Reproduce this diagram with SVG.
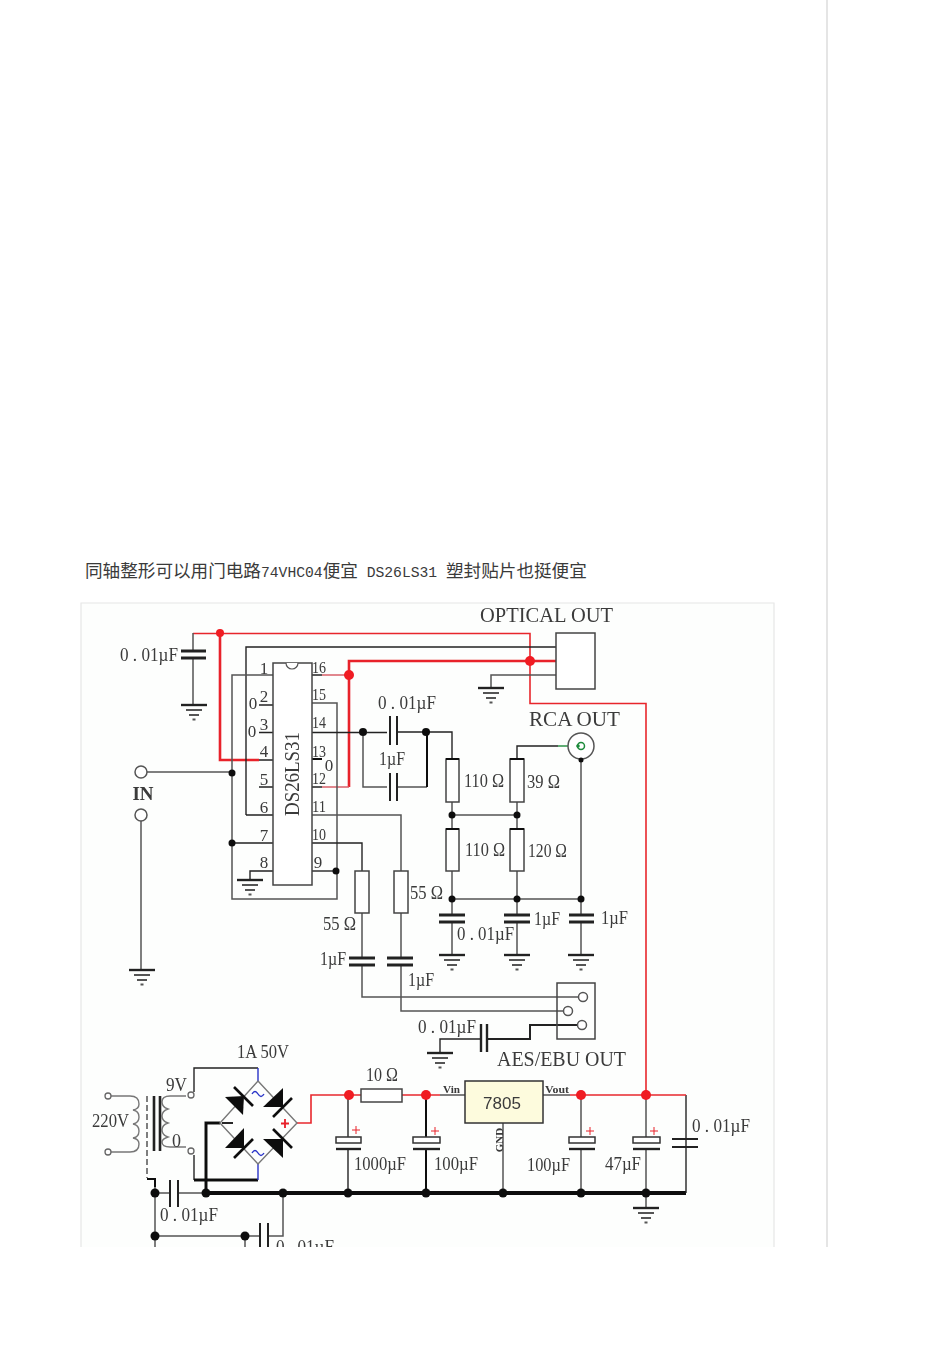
<svg xmlns="http://www.w3.org/2000/svg" width="950" height="1345" viewBox="0 0 950 1345">
<style>
.w{fill:none;stroke:#555;stroke-width:1.5}
.k{fill:none;stroke:#222;stroke-width:1.4}
.h{fill:none;stroke:#111;stroke-width:3}
.b{fill:none;stroke:#111;stroke-width:4}
.r{fill:none;stroke:#e8262c;stroke-width:1.6}
.rt{fill:none;stroke:#e8202a;stroke-width:2.6}
.rl{fill:none;stroke:#d8606a;stroke-width:1.6}
.bl{fill:none;stroke:#2a35c8;stroke-width:1.4}
.p{fill:none;stroke:#222;stroke-width:3}
.box{fill:#fff;stroke:#444;stroke-width:1.5}
.dot{fill:#111}
.rd{fill:#f01a24}
.d{fill:#111}
.bar{stroke:#111;stroke-width:2.6;fill:none}
.thin{fill:none;stroke:#777;stroke-width:1.4}
text{font-family:"Liberation Serif","Noto Sans CJK SC",serif;fill:#3a3a3a}
.t{font-size:19px}
.n{font-size:17px}
.big{font-size:21px}
.s{font-size:11px;font-weight:bold}
</style>
<defs>
<g id="gnd"><path d="M-13 0H13" stroke="#222" stroke-width="2.400" fill="none"/><path d="M-8 5H8M-5 10H5M-1.500 14.500H1.500" stroke="#555" stroke-width="1.800" fill="none"/></g>
<clipPath id="pic"><rect x="81" y="603" width="693" height="644"/></clipPath>
<filter id="soft" x="0" y="0" width="100%" height="100%"><feGaussianBlur stdDeviation="0.35"/></filter>
</defs>
<rect width="950" height="1345" fill="#fff"/>
<path d="M827 0V1247" stroke="#dcdcdc" stroke-width="1.500" fill="none"/>
<text id="caption" x="85" y="577" font-size="17.600"><tspan>同轴整形可以用门电路</tspan><tspan font-family="Liberation Mono" font-size="14.700">74VHC04</tspan><tspan>便宜</tspan><tspan font-family="Liberation Mono" font-size="14.700"> DS26LS31 </tspan><tspan>塑封贴片也挺便宜</tspan></text>
<rect x="81" y="603" width="693" height="644" fill="#fdfefd"/>
<path d="M81 1247V603H774V1247" fill="none" stroke="#e6e6e6" stroke-width="1.200"/>
<g clip-path="url(#pic)" filter="url(#soft)">
<g id="connectors">
<path class="r" d="M193 633.500H530V703.500H646V1095"/>
<path class="rt" d="M220 633V760H259"/>
<path class="k" d="M246 815V647H556"/>
<path class="rt" d="M349 787V661H556"/>
<path class="rl" d="M322 675H349M322 787H349"/>
<path class="k" d="M312 675H322M312 787H322"/>
<path class="w" d="M273 675H232V899H337V703H312"/>
<path class="k" d="M259 705H273M259 732.500H273M259 760H273M259 787H273M246 815H273M232 843H273"/>
<path class="k" d="M273 871H250V880"/>
<path class="k" d="M312 871H336"/>
<path class="k" d="M312 732.500H387M397 732H452V759"/>
<path class="w" d="M363 732V787H387M397 787H427"/>
<path class="h" d="M427 732V787" style="stroke-width:2"/>
<path class="h" d="M312 759H322" style="stroke-width:2"/>
<path class="w" d="M312 815H401V871M401 913V958M401 965V1011H563"/>
<path class="k" d="M312 843H362V871"/>
<path class="w" d="M362 913V958M362 965V997H578"/>
<path class="k" d="M577 1025H530V1039H487" style="stroke-width:2"/>
<path class="k" d="M480 1039H440V1053"/>
<path class="w" d="M193 633V650M193 658V704"/>
<path class="w" d="M147 772H232"/>
<path class="w" d="M141 821V970"/>
<path class="w" d="M556 675H491V688"/>
<path class="w" d="M452 802V829M452 871V915M452 922V955"/>
<path class="k" d="M517 759V746H558"/>
<path d="M558 746H578" fill="none" stroke="#1c8a3a" stroke-width="1.400"/>
<path class="w" d="M517 802V829M517 871V915M517 922V955"/>
<path class="w" d="M581 758V915M581 922V955"/>
<path class="w" d="M452 815H517M452 899H581"/>
<path class="thin" d="M111 1096H130q9 0 9 8q0 5-6 6q6 1 6 7q0 6-6 7q6 1 6 7q0 6-6 7q6 1 6 6q0 8-9 8H111"/>
<path class="thin" d="M186 1096H170q-8 0-8 6q0 5 6 7q-6 2-6 7q0 5 6 7q-6 2-6 7q0 5 6 7q-6 2-6 5q0 5 8 5H186"/>
<path class="w" d="M147 1096V1178" stroke-dasharray="6 3"/>
<path class="h" d="M147 1179H155V1187" style="stroke-width:2"/>
<path class="k" d="M194 1092V1068H258"/>
<path class="k" d="M194 1155V1180"/>
<path class="h" d="M194 1180H258"/>
<path class="bl" d="M258 1068V1081M258 1164V1180"/>
<path class="h" d="M220 1123H206V1193"/>
<path class="b" d="M206 1193H686"/>
<path class="k" d="M686 1095V1193"/>
<path class="w" d="M155 1187V1247M155 1193H170M178 1193H206M155 1236H260M268 1236H283V1193M245 1236V1247"/>
<path class="r" d="M297 1123H311V1095H361M402 1095H440M570 1095H686"/>
<path class="w" d="M440 1095H465M543 1095H570"/>
<path class="k" d="M348 1095V1137M348 1150V1193"/>
<path class="h" d="M426 1095V1137M426 1150V1193" style="stroke-width:2"/>
<path class="w" d="M503 1123V1193"/>
<path class="w" d="M581 1095V1137M581 1150V1193"/>
<path class="w" d="M646 1095V1137M646 1150V1207"/>
</g>
<g id="ic"><rect class="box" x="273" y="663" width="39" height="222"/><path d="M286 663a6 6 0 0 0 12 0" fill="#fff" stroke="#555" stroke-width="1.200"/>
<text transform="translate(299 774) rotate(-90)" text-anchor="middle" textLength="84" lengthAdjust="spacingAndGlyphs" font-size="20">DS26LS31</text>
<g class="n"><text x="264" y="674" text-anchor="middle">1</text><text x="264" y="702" text-anchor="middle">2</text><text x="264" y="730" text-anchor="middle">3</text><text x="264" y="757" text-anchor="middle">4</text><text x="264" y="785" text-anchor="middle">5</text><text x="264" y="813" text-anchor="middle">6</text><text x="264" y="841" text-anchor="middle">7</text><text x="264" y="868" text-anchor="middle">8</text>
<text x="312" y="673" textLength="14" lengthAdjust="spacingAndGlyphs">16</text><text x="312" y="700" textLength="14" lengthAdjust="spacingAndGlyphs">15</text><text x="312" y="728" textLength="14" lengthAdjust="spacingAndGlyphs">14</text><text x="312" y="757" textLength="14" lengthAdjust="spacingAndGlyphs">13</text><text x="312" y="784" textLength="14" lengthAdjust="spacingAndGlyphs">12</text><text x="312" y="812" textLength="14" lengthAdjust="spacingAndGlyphs">11</text><text x="312" y="840" textLength="14" lengthAdjust="spacingAndGlyphs">10</text><text x="318" y="868" text-anchor="middle">9</text>
<text x="253" y="709" text-anchor="middle">0</text><text x="252" y="737" text-anchor="middle">0</text><text x="329" y="771" text-anchor="middle">0</text></g></g>
<g id="junctions">
<circle class="rd" cx="220" cy="633" r="4"/><circle class="rd" cx="349" cy="675" r="5"/><circle class="rd" cx="530" cy="661" r="5"/>
<circle class="dot" cx="232" cy="773" r="3.500"/><circle class="dot" cx="232" cy="843" r="3.500"/><circle class="dot" cx="336" cy="871" r="3.500"/>
<circle class="dot" cx="363" cy="732" r="4"/><circle class="dot" cx="426" cy="732" r="4"/>
<circle class="dot" cx="452" cy="815" r="3.500"/><circle class="dot" cx="517" cy="815" r="3.500"/><circle class="dot" cx="452" cy="899" r="3.500"/><circle class="dot" cx="517" cy="899" r="3.500"/><circle class="dot" cx="581" cy="899" r="3.500"/>
<circle class="dot" cx="155" cy="1193" r="4.500"/><circle class="dot" cx="206" cy="1193" r="4.500"/><circle class="dot" cx="283" cy="1193" r="4.500"/><circle class="dot" cx="348" cy="1193" r="4.500"/><circle class="dot" cx="426" cy="1193" r="4.500"/><circle class="dot" cx="503" cy="1193" r="4.500"/><circle class="dot" cx="581" cy="1193" r="4.500"/><circle class="dot" cx="646" cy="1193" r="4.500"/><circle class="dot" cx="155" cy="1236" r="4.500"/><circle class="dot" cx="245" cy="1236" r="4.500"/>
<circle class="rd" cx="349" cy="1095" r="5"/><circle class="rd" cx="426" cy="1095" r="5"/><circle class="rd" cx="581" cy="1095" r="5"/><circle class="rd" cx="646" cy="1095" r="5"/>
</g>
<g id="c1"><path class="p" d="M181 651H206M181 658H206"/><text class="t" x="120" y="661" textLength="58" lengthAdjust="spacingAndGlyphs">0 . 01µF</text></g>
<use href="#gnd" x="194" y="705"/>
<use href="#gnd" x="250" y="880"/>
<use href="#gnd" x="491" y="688"/>
<use href="#gnd" x="142" y="970"/>
<use href="#gnd" x="452" y="955"/><use href="#gnd" x="517" y="955"/><use href="#gnd" x="581" y="955"/>
<use href="#gnd" x="440" y="1053"/>
<use href="#gnd" x="646" y="1208"/>
<g id="in"><circle cx="141" cy="772" r="6" fill="#fff" stroke="#555" stroke-width="1.500"/><circle cx="141" cy="815" r="6" fill="#fff" stroke="#555" stroke-width="1.500"/><text x="143" y="800" text-anchor="middle" font-size="19" font-weight="bold">IN</text></g>
<g id="optical"><rect class="box" x="556" y="633" width="39" height="56"/><text class="big" x="480" y="622" textLength="133" lengthAdjust="spacingAndGlyphs">OPTICAL OUT</text></g>
<g id="rca"><circle cx="581" cy="746" r="13" fill="#fff" stroke="#555" stroke-width="1.500"/><circle cx="581" cy="746" r="3.500" fill="none" stroke="#1c8a3a" stroke-width="1.500"/><circle class="dot" cx="581" cy="760" r="2.500"/><circle cx="578" cy="746" r="1.800" fill="#1c8a3a"/><text class="big" x="529" y="726" textLength="91" lengthAdjust="spacingAndGlyphs">RCA OUT</text></g>
<g id="c2"><path class="k" d="M390 716V745M397 716V745" style="stroke-width:2"/><text class="t" x="378" y="709" textLength="58" lengthAdjust="spacingAndGlyphs">0 . 01µF</text></g>
<g id="c3"><path class="k" d="M390 773V801M397 773V801" style="stroke-width:2"/><text class="t" x="379" y="765" textLength="26" lengthAdjust="spacingAndGlyphs">1µF</text></g>
<g id="r1"><rect class="box" x="446" y="759" width="13" height="43"/><path class="h" d="M446 759H459" style="stroke-width:2"/><text class="t" x="464" y="787" textLength="40" lengthAdjust="spacingAndGlyphs">110 Ω</text></g>
<g id="r2"><rect class="box" x="510" y="759" width="14" height="43"/><path class="h" d="M510 759H524" style="stroke-width:2"/><text class="t" x="527" y="788" textLength="33" lengthAdjust="spacingAndGlyphs">39 Ω</text></g>
<g id="r3"><rect class="box" x="446" y="829" width="13" height="42"/><path class="h" d="M446 829H459" style="stroke-width:2"/><text class="t" x="465" y="856" textLength="40" lengthAdjust="spacingAndGlyphs">110 Ω</text></g>
<g id="r4"><rect class="box" x="510" y="829" width="14" height="42"/><path class="h" d="M510 829H524" style="stroke-width:2"/><text class="t" x="528" y="857" textLength="39" lengthAdjust="spacingAndGlyphs">120 Ω</text></g>
<g id="r5"><rect class="box" x="355" y="871" width="14" height="42"/><text class="t" x="323" y="930" textLength="33" lengthAdjust="spacingAndGlyphs">55 Ω</text></g>
<g id="r6"><rect class="box" x="394" y="871" width="14" height="42"/><text class="t" x="410" y="899" textLength="33" lengthAdjust="spacingAndGlyphs">55 Ω</text></g>
<g id="c4"><path class="p" d="M439 915H465M439 922H465"/><text class="t" x="457" y="940" textLength="57" lengthAdjust="spacingAndGlyphs">0 . 01µF</text></g>
<g id="c5"><path class="p" d="M504 915H530M504 922H530"/><text class="t" x="534" y="925" textLength="26" lengthAdjust="spacingAndGlyphs">1µF</text></g>
<g id="c6"><path class="p" d="M569 915H594M569 922H594"/><text class="t" x="601" y="924" textLength="27" lengthAdjust="spacingAndGlyphs">1µF</text></g>
<g id="c7"><path class="p" d="M349 958H375M349 965H375"/><text class="t" x="320" y="965" textLength="26" lengthAdjust="spacingAndGlyphs">1µF</text></g>
<g id="c8"><path class="p" d="M387 958H413M387 965H413"/><text class="t" x="408" y="986" textLength="26" lengthAdjust="spacingAndGlyphs">1µF</text></g>
<g id="c9"><path class="p" d="M481 1024V1052M487 1024V1052" style="stroke-width:2.400"/><text class="t" x="418" y="1033" textLength="58" lengthAdjust="spacingAndGlyphs">0 . 01µF</text></g>
<g id="aes"><rect x="557" y="983" width="38" height="56" fill="none" stroke="#444" stroke-width="1.500"/><circle cx="583" cy="997" r="4.500" fill="#fff" stroke="#555" stroke-width="1.500"/><circle cx="568" cy="1011" r="4.500" fill="#fff" stroke="#555" stroke-width="1.500"/><circle cx="582" cy="1025" r="4.500" fill="#fff" stroke="#555" stroke-width="1.500"/><text class="big" x="497" y="1066" textLength="129" lengthAdjust="spacingAndGlyphs">AES/EBU OUT</text></g>
<g id="transformer"><circle cx="108" cy="1096" r="3" fill="#fff" stroke="#666" stroke-width="1.300"/><circle cx="108" cy="1152" r="3" fill="#fff" stroke="#666" stroke-width="1.300"/><circle cx="191" cy="1095" r="3" fill="#fff" stroke="#666" stroke-width="1.300"/><circle cx="191" cy="1151" r="3" fill="#fff" stroke="#666" stroke-width="1.300"/><path class="k" d="M154 1096V1151M160 1096V1151" style="stroke-width:2.600"/><text class="t" x="92" y="1127" textLength="37" lengthAdjust="spacingAndGlyphs">220V</text><text class="t" x="166" y="1091" textLength="21" lengthAdjust="spacingAndGlyphs">9V</text><text class="t" x="172" y="1147" textLength="9" lengthAdjust="spacingAndGlyphs">0</text></g>
<g id="bridge"><path class="thin" d="M258 1081L297 1123L258 1164L220 1123Z"/>
<path class="d" d="M225 1097L244 1096L243 1115Z"/><path class="bar" d="M234 1087L253 1106"/>
<path class="d" d="M263 1107L283 1088L283 1107Z"/><path class="bar" d="M273 1117L292 1098"/>
<path class="d" d="M263 1139L283 1139L283 1158Z"/><path class="bar" d="M273 1129L292 1148"/>
<path class="d" d="M225 1148L244 1128L244 1148Z"/><path class="bar" d="M234 1158L253 1139"/>
<path class="bl" d="M252 1094q3-5 6 0t6 0M252 1153q3-5 6 0t6 0"/>
<path d="M222 1123H233" stroke="#111" stroke-width="1.800" fill="none"/><path d="M281 1123.500H289M285 1119V1128" stroke="#e8202a" stroke-width="1.800" fill="none"/>
<text class="t" x="237" y="1058" textLength="52" lengthAdjust="spacingAndGlyphs">1A 50V</text></g>
<g id="c10"><path class="k" d="M170 1180V1207M178 1180V1207" style="stroke-width:2"/><text class="t" x="160" y="1221" textLength="58" lengthAdjust="spacingAndGlyphs">0 . 01µF</text></g>
<g id="c11"><path class="k" d="M260 1223V1247M268 1223V1247" style="stroke-width:2"/><text class="t" x="276" y="1253" textLength="58" lengthAdjust="spacingAndGlyphs">0 . 01µF</text></g>
<g id="r7"><rect class="box" x="361" y="1089" width="41" height="13"/><text class="t" x="366" y="1081" textLength="32" lengthAdjust="spacingAndGlyphs">10 Ω</text></g>
<g id="cp1"><rect x="336" y="1137" width="25" height="6" fill="#fff" stroke="#333" stroke-width="1.500"/><path class="p" d="M336 1149H361" style="stroke-width:2.400"/><path d="M352 1130H360M356 1126V1134" stroke="#e8202a" fill="none"/><text class="t" x="354" y="1170" textLength="52" lengthAdjust="spacingAndGlyphs">1000µF</text></g>
<g id="cp2"><rect x="413" y="1137" width="27" height="6" fill="#fff" stroke="#333" stroke-width="1.500"/><path class="p" d="M413 1149H440" style="stroke-width:2.400"/><path d="M431 1131H439M435 1127V1135" stroke="#e8202a" fill="none"/><text class="t" x="434" y="1170" textLength="44" lengthAdjust="spacingAndGlyphs">100µF</text></g>
<g id="cp3"><rect x="569" y="1137" width="26" height="6" fill="#fff" stroke="#333" stroke-width="1.500"/><path class="p" d="M569 1149H595" style="stroke-width:2.400"/><path d="M586 1131H594M590 1127V1135" stroke="#e8202a" fill="none"/><text class="t" x="527" y="1171" textLength="43" lengthAdjust="spacingAndGlyphs">100µF</text></g>
<g id="cp4"><rect x="633" y="1137" width="27" height="6" fill="#fff" stroke="#333" stroke-width="1.500"/><path class="p" d="M633 1149H660" style="stroke-width:2.400"/><path d="M650 1131H658M654 1127V1135" stroke="#e8202a" fill="none"/><text class="t" x="605" y="1170" textLength="36" lengthAdjust="spacingAndGlyphs">47µF</text></g>
<g id="c12"><path class="k" d="M672 1139H698M672 1147H698" style="stroke-width:2.200"/><text class="t" x="692" y="1132" textLength="58" lengthAdjust="spacingAndGlyphs">0 . 01µF</text></g>
<g id="reg7805"><rect x="465" y="1081" width="78" height="42" fill="#fdfbdd" stroke="#333" stroke-width="1.500"/><text x="502" y="1109" text-anchor="middle" font-size="17" style="font-family:'Liberation Sans',sans-serif">7805</text><text class="s" x="443" y="1093" textLength="17" lengthAdjust="spacingAndGlyphs">Vin</text><text class="s" x="545" y="1093" textLength="24" lengthAdjust="spacingAndGlyphs">Vout</text><text class="s" transform="translate(503 1140) rotate(-90)" text-anchor="middle">GND</text></g>
</g>
</svg>
